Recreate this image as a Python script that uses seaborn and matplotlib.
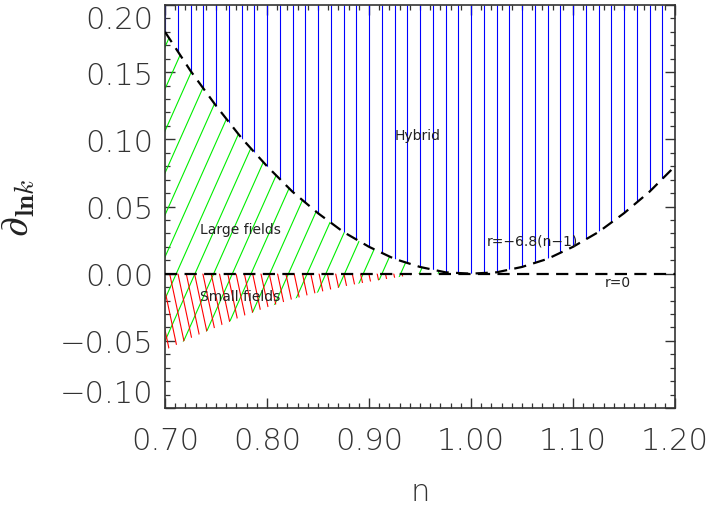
import numpy as np
import matplotlib
matplotlib.use('Agg')
import matplotlib.pyplot as plt
from matplotlib.collections import LineCollection
import seaborn as sns

# valores
n = [0.700, 0.725, 0.750, 0.775, 0.800, 0.825, 0.850, 0.875, 0.900, 0.925, 0.950,
     0.975, 1.000, 1.025, 1.050, 1.075, 1.100, 1.125, 1.150, 1.175, 1.200]
# curva r = -6.8(n-1)
curva_r = [0.180, 0.151, 0.125, 0.101, 0.080, 0.061, 0.045, 0.031, 0.020, 0.011, 0.005,
           0.001, 0.000, 0.001, 0.005, 0.011, 0.020, 0.031, 0.045, 0.061, 0.080]
# limite inferior dos campos pequenos
limite_inf = [-0.057, -0.048, -0.040, -0.032, -0.025, -0.019, -0.014, -0.0095, -0.006, -0.003, 0.0,
              0.0, 0.0, 0.0, 0.0, 0.0, 0.0, 0.0, 0.0, 0.0, 0.0]
r_zero = 0.0
n_fim_pequenos = 0.95
n_fim_grandes = 1.00

xticks = [0.70, 0.80, 0.90, 1.00, 1.10, 1.20]
yticks = [-0.10, -0.05, 0.00, 0.05, 0.10, 0.15, 0.20]

textos = [
    ('Hybrid', 0.948, 0.103),
    ('Large fields', 0.774, 0.033),
    ('Small fields', 0.774, -0.0166),
    ('r=\u22126.8(n\u22121)', 1.060, 0.025),
    ('r=0', 1.144, -0.006),
]

sns.set_style('ticks')
plt.rcParams['font.family'] = ['DejaVu Sans']
plt.rcParams['mathtext.fontset'] = 'cm'

n = np.array(n)
curva_r = np.array(curva_r)
limite_inf = np.array(limite_inf)

fig = plt.figure(figsize=(7.09, 5.06), dpi=100)
ax = fig.add_axes([165 / 709, 1 - 409 / 506, 510 / 709, 403 / 506])
ax.set_xlim(0.70, 1.20)
ax.set_ylim(-0.10, 0.20)


def hachura(ax, regiao, espaco, angulo, cor):
    # linhas paralelas em pixels, recortadas pela regiao
    W, H = ax.bbox.width, ax.bbox.height
    if angulo == 90:
        desl = 0.0
    else:
        desl = H / np.tan(np.radians(angulo))
    u0 = np.arange(min(0, -desl), max(W, W - desl) + espaco, espaco)
    segs = [[(u / W, 0), ((u + desl) / W, 1)] for u in u0]
    lc = LineCollection(segs, transform=ax.transAxes, colors=cor, linewidths=0.8, zorder=2)
    lc.set_clip_path(regiao.get_paths()[0], ax.transData)
    ax.add_collection(lc)


topo = ax.get_ylim()[1]
reg_azul = ax.fill_between(n, np.maximum(curva_r, r_zero), topo, facecolor='none', edgecolor='none')
reg_verde = ax.fill_between(n, limite_inf, curva_r, where=n <= n_fim_grandes,
                            facecolor='none', edgecolor='none')
reg_verm = ax.fill_between(n, limite_inf, r_zero, where=n <= n_fim_pequenos,
                           facecolor='none', edgecolor='none')

hachura(ax, reg_azul, ax.bbox.width / 40, 90, '#0000ff')
hachura(ax, reg_verde, 18.7, 66, '#00ee00')
hachura(ax, reg_verm, 8.3, 102, '#ff0000')

sns.lineplot(x=n, y=curva_r, ax=ax, color='black', lw=1.6, dashes=False, zorder=3)
ax.lines[-1].set_dashes((5.5, 3.3))
ax.axhline(r_zero, color='black', lw=1.6, dashes=(5.5, 3.3), zorder=3)

for txt, x, y in textos:
    ax.text(x, y, txt, ha='center', va='center', fontsize=10, color='#222222', zorder=4)

ax.set_xticks(xticks)
ax.set_xticklabels(['%.2f' % v for v in xticks])
ax.set_yticks(yticks)
ax.set_yticklabels([('%.2f' % v).replace('-', '\u2212') for v in yticks])
ax.set_xticks(np.arange(0.70, 1.2001, 0.01), minor=True)
ax.set_yticks(np.arange(-0.10, 0.2001, 0.01), minor=True)
ax.tick_params(which='both', direction='in', top=True, right=True, colors='#333333')
ax.tick_params(which='major', length=7.2, width=1.0)
ax.tick_params(which='minor', length=3.6, width=0.9)
ax.tick_params(axis='y', pad=8.6, labelsize=22)
ax.tick_params(axis='x', pad=13, labelsize=22)
for lab in ax.get_yticklabels():
    lab.set_fontweight('light')
for lab in ax.get_xticklabels():
    lab.set_fontweight('light')
ylabs = ax.get_yticklabels()
ylabs[0].set_va('bottom')
ylabs[-1].set_va('top')

for s in ax.spines.values():
    s.set_color('#333333')
    s.set_linewidth(1.2)

ax.set_xlabel('n', fontsize=22, fontweight='light', labelpad=16, color='#333333')
ax.set_ylabel(r'$\partial_{\mathbf{ln}k}$', fontsize=28, labelpad=16, color='#222222')

fig.savefig('out.png', dpi=100)
